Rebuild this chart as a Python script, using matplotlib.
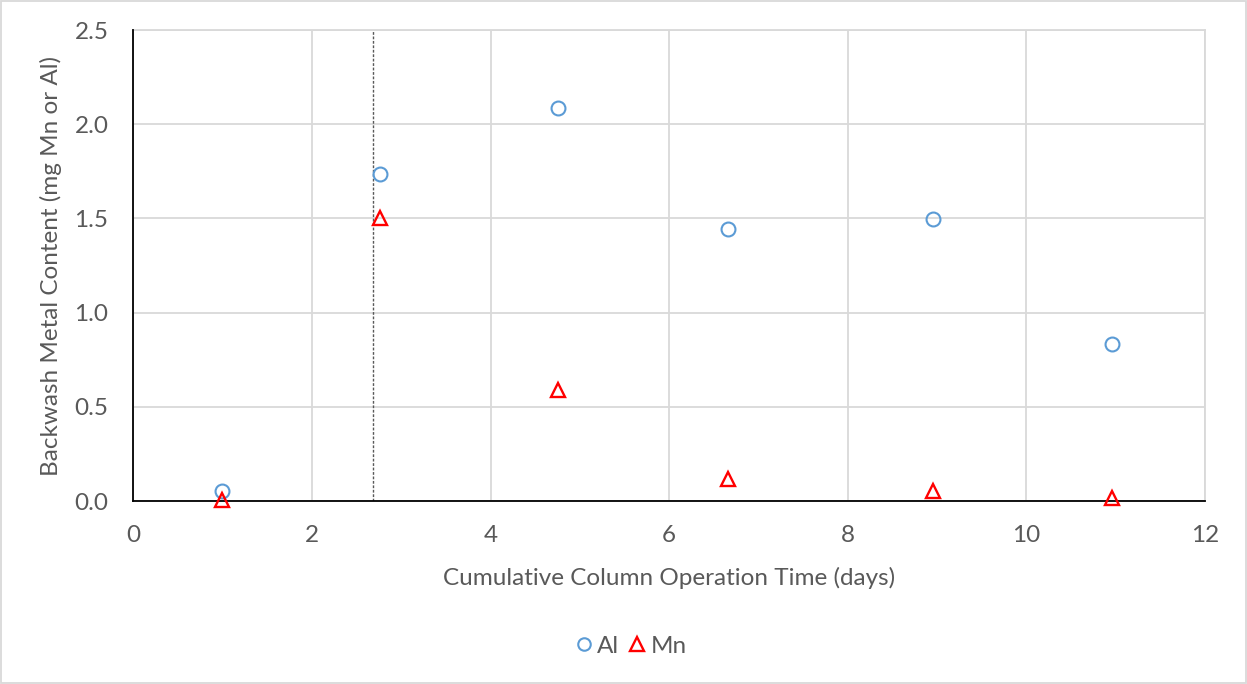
import matplotlib
matplotlib.use("Agg")
import matplotlib.pyplot as plt

plt.rcParams['font.family'] = ['Lato', 'DejaVu Sans']

days = [0.99, 2.76, 4.75, 6.66, 8.95, 10.96]
al = [0.055, 1.735, 2.085, 1.445, 1.495, 0.833]
mn = [0.005, 1.505, 0.59, 0.115, 0.055, 0.015]
marker_day = 2.68

text_color = '#595959'
grid_color = '#d9d9d9'

fig = plt.figure(figsize=(12.47, 6.84), dpi=100)
ax = fig.add_axes([0.107, 0.2675, 0.8593, 0.6885])

ax.set_xlim(0, 12)
ax.set_ylim(0, 2.5)
ax.set_xticks(range(0, 13, 2))
ax.set_yticks([0, 0.5, 1.0, 1.5, 2.0, 2.5])
ax.set_yticklabels([f"{v:.1f}" for v in [0, 0.5, 1.0, 1.5, 2.0, 2.5]])
ax.grid(True, color=grid_color, linewidth=1.3)
ax.set_axisbelow(True)

for side in ('top', 'right'):
    ax.spines[side].set_color(grid_color)
    ax.spines[side].set_linewidth(1.3)
for side in ('left', 'bottom'):
    ax.spines[side].set_color('black')
    ax.spines[side].set_linewidth(1.3)
    ax.spines[side].set_zorder(3)

ax.tick_params(length=0, labelsize=17.5, labelcolor=text_color)
ax.tick_params(axis='x', pad=17)
ax.tick_params(axis='y', pad=18)

ax.axvline(marker_day, color='#595959', linestyle=(0, (2, 1.2)), linewidth=1.0, zorder=2)

ax.plot(days, al, linestyle='none', marker='o', markersize=10, markerfacecolor='none',
        markeredgecolor='#5b9bd5', markeredgewidth=1.5, label='Al', clip_on=False, zorder=4)
ax.plot(days, mn, linestyle='none', marker='^', markersize=10.5, markerfacecolor='none',
        markeredgecolor='#ff0000', markeredgewidth=1.7, label='Mn', clip_on=False, zorder=4)

ax.set_xlabel('Cumulative Column Operation Time (days)', fontsize=17.5, color=text_color, labelpad=15)
ax.set_ylabel('Backwash Metal Content (mg Mn or Al)', fontsize=17.5, color=text_color, labelpad=9)

leg = fig.legend(loc='center', bbox_to_anchor=(0.5045, 0.055), ncol=2, frameon=False,
                 fontsize=17.5, handletextpad=0.05, columnspacing=0.25, handlelength=1.0,
                 labelcolor=text_color, markerscale=0.9)

fig.patches.append(plt.Rectangle((0.0005, 0.0008), 0.999, 0.998, transform=fig.transFigure,
                                 fill=False, edgecolor=grid_color, linewidth=1.3))

fig.savefig('out.png', dpi=100, facecolor='white')
